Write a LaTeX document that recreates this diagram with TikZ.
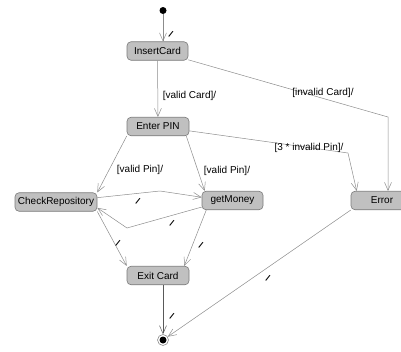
\documentclass[tikz,border=0pt]{standalone}
\usepackage{fontspec}
\setmainfont{Liberation Sans}
\usetikzlibrary{arrows.meta,calc}
\definecolor{stfill}{HTML}{C0C0C0}
\definecolor{stdraw}{HTML}{7A7A7A}
\definecolor{edgecol}{HTML}{8C8C8C}
\begin{document}
\begin{tikzpicture}[x=1pt,y=-1pt,
  stbox/.style={draw=stdraw,fill=stfill,rounded corners=4pt,minimum height=18.5pt,
    inner sep=0pt,line width=0.6pt,font=\fontsize{10}{12}\selectfont},
  trans/.style={draw=edgecol,line width=0.5pt,-{Straight Barb[length=8pt,width=7pt]}},
  guard/.style={inner sep=0pt,font=\fontsize{10}{12}\selectfont},
  act/.style={inner sep=0pt,rotate=-28,font=\bfseries\fontsize{9}{11}\selectfont}
]
\useasboundingbox (0,0) rectangle (401,351);

% states
\node[circle,fill=black,minimum size=7pt,inner sep=0pt] (init) at (163,10.5) {};
\node[stbox,minimum width=61pt] (ins) at (157.5,51) {InsertCard};
\node[stbox,minimum width=62pt] (pin) at (158,126.5) {Enter PIN};
\node[stbox,minimum width=82pt] (chk) at (56,202) {CheckRepository};
\node[stbox,minimum width=61pt] (mon) at (232.5,200.5) {getMoney};
\node[stbox,minimum width=62pt] (err) at (382,200.5) {Error};
\node[stbox,minimum width=62pt] (exit) at (158,275.5) {Exit Card};
\node[circle,draw=edgecol,fill=white,line width=0.6pt,minimum size=11pt,inner sep=0pt] (fin) at (163,340) {};
\node[circle,fill=black,minimum size=7pt,inner sep=0pt] (findot) at (fin) {};

% bend points
\coordinate (b1) at (388,117);
\coordinate (b2) at (348,153);
\coordinate (c1) at (160,191);
\coordinate (c2) at (127,228);

% transitions
\draw[trans] (init) -- (init |- ins.north);
\draw[trans] (ins) -- (pin);
\draw[trans] (ins) -- (b1) -- (b1 |- err.north);
\draw[trans] (pin) -- (b2) -- ($(err.north west)+(6,0)$);
\draw[trans] (pin.south west) -- (chk.north east);
\draw[trans] ($(pin.south east)+(-3,0)$) -- ($(mon.north west)+(3,0)$);
\draw[trans] (chk.6) -- (c1) -- (mon.174);
\draw[trans] (mon.192) -- (c2) -- (chk.-8);
\draw[trans] (chk.south east) -- (exit.north west);
\draw[trans] (mon.-160) -- (exit.20);
\draw[trans,draw=black!65] (exit.south -| fin) -- (fin);
\draw[trans] (err.south west) -- (fin);

% guards
\node[guard] (lvc) at (189.5,96) {[valid Card]/};
\node[guard] (lic) at (323,93) {[invalid Card]/};
\node[guard] (l3p) at (309,148) {[3 * invalid Pin]/};
\node[guard] (lvp1) at (140,170) {[valid Pin]/};
\node[guard] (lvp2) at (227,171) {[valid Pin]/};

% empty actions
\node[act] (a1) at (171,34) {/};
\node[act] (a2) at (138,201) {/};
\node[act] (a3) at (172,223) {/};
\node[act] (a4) at (118,243) {/};
\node[act] (a5) at (201,245) {/};
\node[act] (a6) at (172,316) {/};
\node[act] (a7) at (268,278) {/};
\end{tikzpicture}
\end{document}
